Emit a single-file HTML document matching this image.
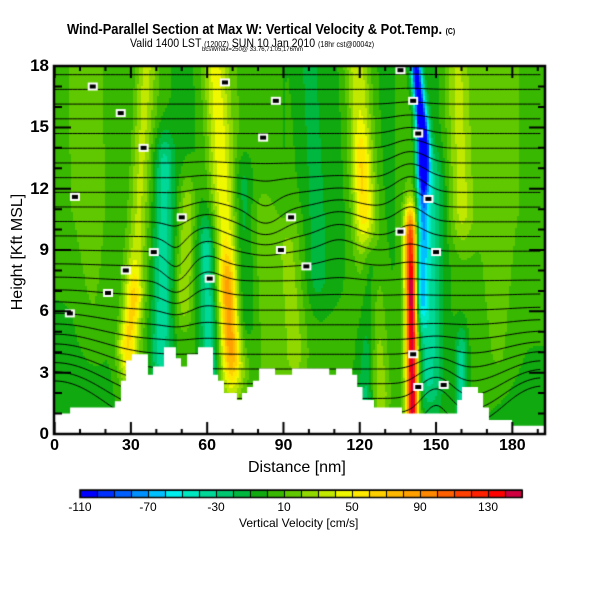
<!DOCTYPE html>
<html><head><meta charset="utf-8">
<style>
body{margin:0;background:#fff;width:600px;height:600px;position:relative;overflow:hidden;font-family:"Liberation Sans",sans-serif;}
.t{position:absolute;white-space:nowrap;color:#000;}
#plot{position:absolute;left:0;top:0;}
</style></head><body>
<div class="t" style="left:67px;top:21px;font-size:15px;font-weight:bold;transform-origin:0 0;transform:scaleX(0.86);">Wind-Parallel Section at Max W: Vertical Velocity &amp; Pot.Temp. <span style="font-size:8px">(C)</span></div>
<div class="t" style="left:130px;top:36px;font-size:12px;transform-origin:0 0;transform:scaleX(0.88);">Valid 1400 LST <span style="font-size:8px">(1200Z)</span> SUN 10 Jan 2010 <span style="font-size:8px">(18hr cst@0004z)</span></div>
<div class="t" style="left:202px;top:47px;font-size:6px;">bcsWmax=250@ 33.76,71.05,176/nm</div>
<canvas id="plot" width="600" height="600"></canvas>
<div class="t" style="left:248px;top:459px;font-size:16px;">Distance [nm]</div>
<div class="t" style="left:-42px;top:243px;font-size:16px;transform:rotate(-90deg);width:120px;text-align:center;">Height [Kft MSL]</div>
<div class="t" style="left:239px;top:516px;font-size:12px;">Vertical Velocity [cm/s]</div>
<div id="labels"></div>
<script>
// ---- data ----
const xTicks=[0,30,60,90,120,150,180];
const yTicks=[0,3,6,9,12,15,18];
const cbLabels=[-110,-70,-30,10,50,90,130];
const palette=["#0000ff","#0030ff","#0060ff","#0090ff","#00c0ff","#00f0f0","#00e8c0","#00d898","#00c870","#00b840","#10aa10","#38b800","#60c800","#90d800","#c0e800","#f0f800","#ffe800","#ffd000","#ffb800","#ffa000","#ff8800","#ff6000","#ff4000","#ff2000","#ff0000","#d00040"];
const terrainStart=[0,6.1,23.7,26.1,28.1,30.4,36.7,38.7,43.0,47.7,49.7,52.1,56.4,62.3,64.3,66.6,71.7,73.7,75.7,78.0,80.4,86.7,93.4,108,110.7,117,119,121.1,125.6,136.6,158.3,160.2,166.5,168.5,170.8,179.9];
const terrainHeight=[1.0,1.3,1.6,2.6,3.6,3.9,2.9,3.3,4.25,3.7,3.3,3.9,4.25,2.9,2.6,2.0,1.66,2.0,2.3,2.6,3.2,2.9,3.2,2.9,3.2,2.9,2.3,1.66,1.3,1.0,1.66,2.3,2.0,1.3,0.68,0.4];
const baseX=[0,10,20,30,40,50,60,70,80,90,100,110,120,130,140,150,160,170,180,190];
const baseLow=[-10,-10,-6,6,-2,6,0,6,-2,8,0,6,0,-4,0,-6,6,0,-4,-4];
const baseHigh=[8,8,6,0,6,-4,0,8,6,0,6,-4,0,-4,6,-4,6,10,8,8];
// streaks: x at z0, z0, x at z1, z1, amplitude (cm/s), width (nm)
const streakX0=[30,28,42,51,70,69,61,74,127,121,123,140.5,141,145,144,147,160,160,95,15,175,103,85];
const streakZ0=[4,4.5,4,7,3.5,4.5,3.5,6,2,11,1.5,1,2,14,7,3,11,2,4,5,4,8,3];
const streakX1=[36,31,43,52,63,68,60,74,119,120,124,140,140.5,142,145,148,158,160,92,13,175,100,83];
const streakZ1=[18,6.5,13,11,18,7,9,12,18,13,8,9.5,7,18,14,12,18,3.5,9,18,18,18,10];
const streakAmp=[30,32,-38,30,42,40,-38,-22,38,25,-38,115,40,-115,-55,-30,28,-40,20,10,10,-18,15];
const streakW=[4,3.5,4,3.5,5,3.5,3.5,4,5,3.5,3.5,2.6,1.6,2.2,2.5,5,5,2.5,5,6,6,5,5];
// theta anomalies: x, z, amplitude, width x, width z
const thX=[0,192,83,48,140,112,60,150];
const thZ=[0,0,10.5,8,12,10,9,2];
const thA=[-3.2,-3.2,0.8,0.8,-0.8,-0.6,-0.5,-1.2];
const thWx=[22,16,8,6,8,10,8,8];
const thWz=[4.5,3.5,1.5,2,3,2,3,2];
const labelPts=[[15,17],[26,15.7],[35,14],[8,11.6],[50,10.6],[39,8.9],[28,8],[21,6.9],[6,5.9],[61,7.6],[67,17.2],[87,16.3],[82,14.5],[93,10.6],[89,9],[99,8.2],[136,17.8],[141,16.3],[143,14.7],[136,9.9],[147,11.5],[150,8.9],[141,3.9],[143,2.3],[153,2.4]];
// ---- scales ----
const X=nm=>54.6+nm*2.543, Y=z=>434-z*20.44;
const NX=nm=>(nm-54.6)/2.543, NZ=y=>(434-y)/20.44;
function interp(xs,ys,x){if(x<=xs[0])return ys[0];for(let i=1;i<xs.length;i++){if(x<=xs[i]){const t=(x-xs[i-1])/(xs[i]-xs[i-1]);return ys[i-1]+t*(ys[i]-ys[i-1]);}}return ys[ys.length-1];}
function vel(x,z){
  const f=Math.min(1,Math.max(0,(z-1)/10));
  let v=interp(baseX,baseLow,x)*(1-f)+interp(baseX,baseHigh,x)*f;
  for(let i=0;i<streakAmp.length;i++){
    const za=streakZ0[i],zb=streakZ1[i];
    let t=(z-za)/(zb-za);let taper=1;
    if(z<za)taper=Math.exp(-Math.pow((za-z)/1.8,2));
    if(z>zb)taper=Math.exp(-Math.pow((z-zb)/1.8,2));
    t=Math.min(1,Math.max(0,t));
    const xc=streakX0[i]+t*(streakX1[i]-streakX0[i]);
    v+=streakAmp[i]*taper*Math.exp(-Math.pow((x-xc)/streakW[i],2));
  }
  return v;
}
function theta(x,z){let t=z;for(let i=0;i<thA.length;i++){t+=thA[i]*Math.exp(-Math.pow((x-thX[i])/thWx[i],2)-Math.pow((z-thZ[i])/thWz[i],2));}return t;}
const c=document.getElementById('plot');const g=c.getContext('2d');
// field
for(let py=66;py<434;py+=2){for(let px=55;px<545;px+=2){
  const v=vel(NX(px+1),NZ(py+1));let k=Math.floor((v+110)/10);k=Math.max(0,Math.min(25,k));
  g.fillStyle=palette[k];g.fillRect(px,py,2,2);}}
// contours (marching squares)
g.save();g.beginPath();g.rect(55,66,490,368);g.clip();
g.strokeStyle="#000";g.lineWidth=1;g.beginPath();
const dx=1,dz=0.1,nx=192,nz=181;const T=[];
for(let j=0;j<nz;j++){T.push([]);for(let i=0;i<nx;i++)T[j].push(theta(i*dx,j*dz));}
for(let L=0.3;L<22;L+=0.72){
  for(let j=0;j<nz-1;j++)for(let i=0;i<nx-1;i++){
    const a=T[j][i],b=T[j][i+1],cc=T[j+1][i+1],d=T[j+1][i];const pts=[];
    const e=(p,q,x1,z1,x2,z2)=>{if((p<L)!==(q<L)){const t=(L-p)/(q-p);pts.push([x1+t*(x2-x1),z1+t*(z2-z1)]);}};
    const x0=i*dx,z0=j*dz,x1=x0+dx,z1=z0+dz;
    e(a,b,x0,z0,x1,z0);e(b,cc,x1,z0,x1,z1);e(d,cc,x0,z1,x1,z1);e(a,d,x0,z0,x0,z1);
    for(let k=0;k+1<pts.length;k+=2){g.moveTo(X(pts[k][0]),Y(pts[k][1]));g.lineTo(X(pts[k+1][0]),Y(pts[k+1][1]));}
  }}
g.stroke();
// contour labels
labelPts.forEach(p=>{const x=X(p[0]),y=Y(p[1]);g.fillStyle="#fff";g.fillRect(x-5,y-4,10,8);g.fillStyle="#000";g.fillRect(x-3,y-2,6,4);});
// terrain
g.fillStyle="#fff";g.beginPath();g.moveTo(X(0),434);
for(let i=0;i<terrainStart.length;i++){const xe=i+1<terrainStart.length?terrainStart[i+1]:195;g.lineTo(X(terrainStart[i]),Y(terrainHeight[i]));g.lineTo(X(xe),Y(terrainHeight[i]));}
g.lineTo(X(195),434);g.closePath();g.fill();
g.restore();
// frame & ticks
g.strokeStyle="#000";g.lineWidth=2.5;g.strokeRect(54,66,491,368);
g.lineWidth=2;g.beginPath();
for(let v=0;v<=190;v+=10){const x=X(v),L=(v%30===0)?12:5;g.moveTo(x,434);g.lineTo(x,434-L);g.moveTo(x,66);g.lineTo(x,66+L);}
for(let z=0;z<=18;z++){const y=Y(z),L=(z%3===0)?16:7;g.moveTo(55,y);g.lineTo(55+L,y);g.moveTo(545,y);g.lineTo(545-L,y);}
g.stroke();
// colorbar
for(let i=0;i<26;i++){g.fillStyle=palette[i];g.fillRect(80+i*17,490,17,7);g.strokeStyle="#000";g.lineWidth=1;g.strokeRect(80.5+i*17,490.5,17,7);}
g.lineWidth=1.5;g.strokeRect(80,490,442,7.5);
const lab=document.getElementById('labels');
function addLabel(txt,x,y,size,align,name,bold){const d=document.createElement('div');d.className='t';d.textContent=txt;d.style.fontSize=size+'px';d.style.top=y+'px';d.style.left=x+'px';d.style.fontWeight=bold?'bold':'normal';
  if(align==='c')d.style.transform='translateX(-50%)';else if(align==='r')d.style.transform='translateX(-100%)';
  
  
  lab.appendChild(d);}
xTicks.forEach(v=>addLabel(String(v),X(v),437,16,'c','x-tick-label',true));
yTicks.forEach(v=>addLabel(String(v),49,Y(v)-10,17,'r','y-tick-label',true));
cbLabels.forEach(v=>addLabel(String(v),80+(v+110)*1.7,500,12,'c','colorbar-tick-label',false));
</script>
</body></html>
